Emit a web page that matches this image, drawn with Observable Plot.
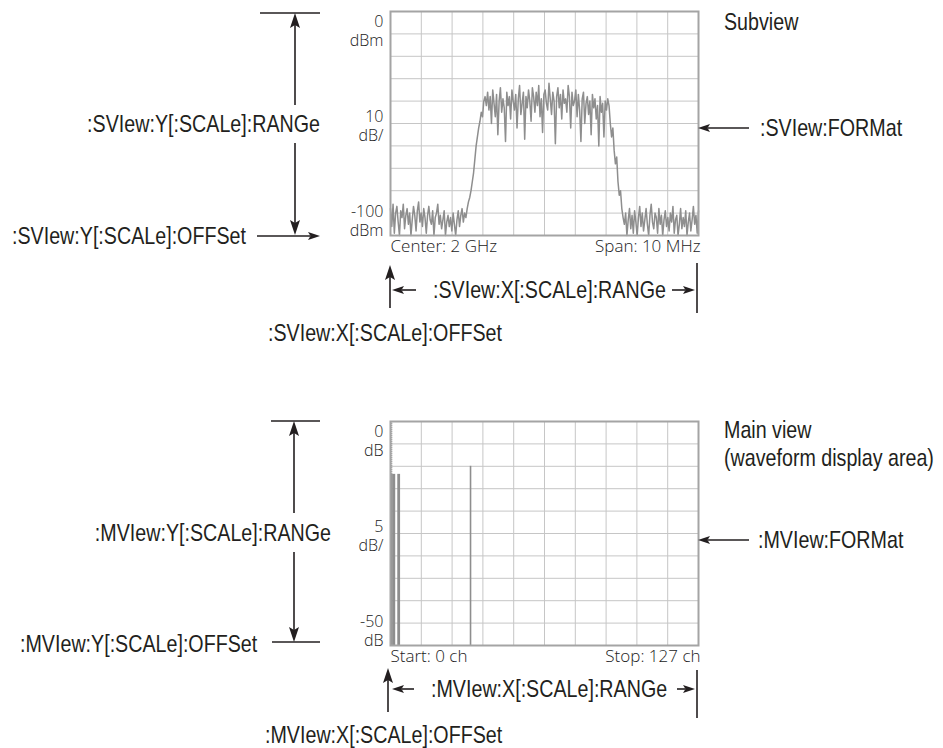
<!DOCTYPE html>
<html><head><meta charset="utf-8">
<script src="https://cdn.jsdelivr.net/npm/d3@7"></script>
<script src="https://cdn.jsdelivr.net/npm/@observablehq/plot@0.6"></script>
<style>
html,body{margin:0;padding:0;background:#fff;}
#wrap{position:relative;width:943px;height:748px;overflow:hidden;background:#fff;}
#wrap > svg{position:absolute;left:0;margin:0;}
</style></head><body><div id="wrap"></div>
<script>
// ---------- Subview (spectrum) data, dBm ----------
const noiseLeft = [-88,-96,-86,-99,-90,-87,-94,-100,-89,-92,-86,-97,-91,-88,-95,-90,-100,-93,-87,-91,-98,-89,-85,-94,-90,-96,-88,-92,-99,-91,-87,-93,-95,-89,-100,-92,-90,-86,-95,-91,-97,-93,-89,-100,-94,-91,-96,-92,-98,-90,-95,-100,-93,-89,-96,-91,-88,-94,-90,-92];
const riseEdge = [-88,-85,-83,-80,-76,-72,-66,-60,-56,-52,-49,-45,-47,-40,-38,-42];
const plateau = [-36,-44,-38,-50,-35,-41,-47,-37,-55,-40,-34,-45,-39,-43,-58,-36,-42,-38,-48,-35,-40,-44,-37,-52,-39,-33,-46,-41,-36,-57,-38,-43,-35,-40,-49,-34,-38,-45,-36,-42,-33,-47,-39,-54,-37,-35,-41,-44,-32,-39,-46,-36,-40,-59,-38,-34,-43,-37,-48,-35,-41,-39,-45,-33,-38,-52,-36,-42,-40,-35,-47,-37,-44,-58,-39,-36,-50,-41,-38,-46,-40,-55,-37,-43,-39,-48,-42,-60,-38,-45,-41,-56,-40,-44,-39];
const fallEdge = [-42,-50,-56,-52,-62,-68,-65,-76,-82,-80,-88,-92];
const noiseRight = [-95,-90,-100,-93,-88,-97,-91,-99,-89,-94,-100,-92,-87,-96,-90,-98,-93,-88,-95,-100,-91,-86,-94,-97,-90,-92,-99,-88,-95,-91,-100,-93,-89,-96,-92,-98,-90,-94,-87,-99,-93,-91,-100,-95,-88,-97,-92,-96,-89,-100,-94,-90,-98,-93,-87,-95,-91,-99,-89];
const subXDomain = [-5, 5];          // MHz offset from 2 GHz center
const subYDomain = [-100, 0];        // dBm
const subXGrid = [-4,-3,-2,-1,0,1,2,3,4];
const subYGrid = [-90,-80,-70,-60,-50,-40,-30,-20,-10];
const subYLabels = ["0\ndBm", "10\ndB/", "-100\ndBm"];
const subBottomLabels = ["Center: 2 GHz", "Span: 10 MHz"];

// ---------- Main view data, dB per channel ----------
const mainChannels = [0, 1, 3];
const mainBarValues = [-11.8, -11.8, -11.8];
const mainSpikeChannel = [33];
const mainSpikeValue = [-10];
const mainXDomain = [0, 127];
const mainYDomain = [-50, 0];
const mainXGrid = [12.7,25.4,38.1,50.8,63.5,76.2,88.9,101.6,114.3];
const mainYGrid = [-45,-40,-35,-30,-25,-20,-15,-10,-5];
const mainYLabels = ["0\ndB", "5\ndB/", "-50\ndB"];
const mainBottomLabels = ["Start: 0 ch", "Stop: 127 ch"];

const trace = [...noiseLeft, ...riseEdge, ...plateau, ...fallEdge, ...noiseRight];
const spectrum = trace.map((v, i) => ({f: subXDomain[0] + (subXDomain[1]-subXDomain[0]) * i / (trace.length - 1), dBm: v}));
const bars = mainChannels.map((c, i) => ({ch: c, dB: mainBarValues[i]}));
const spike = mainSpikeChannel.map((c, i) => ({ch: c, dB: mainSpikeValue[i]}));

const screenFont = "'Open Sans', 'Liberation Sans', sans-serif";
const gridStyle = {stroke: "#c6c6c6", strokeOpacity: 1, strokeWidth: 1};
const lblStyle = {fill: "#222", fontSize: 17, fontWeight: 300};
const sideStyle = {fill: "#222", fontSize: 16, fontWeight: 300, lineHeight: 1.15};

function sideLabels(labels) {
  return [
    Plot.text([labels[0]], {...sideStyle, frameAnchor: "top-left", textAnchor: "end", lineAnchor: "middle", dx: -7, dy: 19}),
    Plot.text([labels[1]], {...sideStyle, frameAnchor: "left", textAnchor: "end", lineAnchor: "middle", dx: -7, dy: 2}),
    Plot.text([labels[2]], {...sideStyle, frameAnchor: "bottom-left", textAnchor: "end", lineAnchor: "middle", dx: -7, dy: -15})
  ];
}
function bottomLabels(labels) {
  return [
    Plot.text([labels[0]], {...lblStyle, frameAnchor: "bottom-left", textAnchor: "start", lineAnchor: "middle", dx: 0, dy: 11}),
    Plot.text([labels[1]], {...lblStyle, frameAnchor: "bottom-right", textAnchor: "end", lineAnchor: "middle", dx: 2, dy: 11})
  ];
}

const wrap = document.getElementById("wrap");

const subPlot = Plot.plot({
  width: 943, height: 374,
  marginLeft: 390, marginRight: 245, marginTop: 11, marginBottom: 139,
  x: {domain: subXDomain, axis: null},
  y: {domain: subYDomain, axis: null},
  style: {fontFamily: screenFont, background: "transparent"},
  marks: [
    Plot.gridX(subXGrid, gridStyle),
    Plot.gridY(subYGrid, gridStyle),
    Plot.line(spectrum, {x: "f", y: "dBm", stroke: "#8e8e8e", strokeWidth: 1.5}),
    Plot.frame({stroke: "#a4a4a4", strokeWidth: 2}),
    ...sideLabels(subYLabels),
    ...bottomLabels(subBottomLabels)
  ]
});
subPlot.style.top = "0px";
wrap.appendChild(subPlot);

const mainPlot = Plot.plot({
  width: 943, height: 374,
  marginLeft: 390, marginRight: 245, marginTop: 47, marginBottom: 103,
  x: {domain: mainXDomain, axis: null},
  y: {domain: mainYDomain, axis: null},
  style: {fontFamily: screenFont, background: "transparent"},
  marks: [
    Plot.gridX(mainXGrid, gridStyle),
    Plot.gridY(mainYGrid, gridStyle),
    Plot.rectY(bars, {x1: "ch", x2: d => d.ch + 1.15, y1: () => mainYDomain[0], y2: "dB", fill: "#8e8e8e"}),
    Plot.ruleX(bars.slice(0, 1), {x: d => d.ch + 0.5, y1: "dB", y2: () => mainYDomain[1], stroke: "#7a7a7a", strokeWidth: 1.2, strokeDasharray: "1,1"}),
    Plot.ruleX(spike, {x: "ch", y1: () => mainYDomain[0], y2: "dB", stroke: "#8e8e8e", strokeWidth: 1.6}),
    Plot.frame({stroke: "#a4a4a4", strokeWidth: 2}),
    ...sideLabels(mainYLabels),
    ...bottomLabels(mainBottomLabels)
  ]
});
mainPlot.style.top = "374px";
wrap.appendChild(mainPlot);

// ---------- Annotation overlay (command callouts) ----------
const annoFont = "'Liberation Sans', Arial, sans-serif";
const annoTexts = [
  {t: ":SVIew:Y[:SCALe]:RANGe", x: 320, y: 124, a: "end"},
  {t: ":SVIew:Y[:SCALe]:OFFSet", x: 12, y: 236, a: "start"},
  {t: ":SVIew:X[:SCALe]:RANGe", x: 433, y: 290, a: "start"},
  {t: ":SVIew:X[:SCALe]:OFFSet", x: 268, y: 333, a: "start"},
  {t: "Subview", x: 724, y: 22, a: "start"},
  {t: ":SVIew:FORMat", x: 760, y: 128, a: "start"},
  {t: ":MVIew:Y[:SCALe]:RANGe", x: 331, y: 533, a: "end"},
  {t: ":MVIew:Y[:SCALe]:OFFSet", x: 20, y: 644, a: "start"},
  {t: ":MVIew:X[:SCALe]:RANGe", x: 431, y: 689, a: "start"},
  {t: ":MVIew:X[:SCALe]:OFFSet", x: 265, y: 735, a: "start"},
  {t: "Main view", x: 724, y: 430, a: "start"},
  {t: "(waveform display area)", x: 724, y: 458, a: "start"},
  {t: ":MVIew:FORMat", x: 758, y: 540, a: "start"}
];
const annoLines = [
  [260,13,320,13], [697,263,697,313],
  [271,421,320,421], [272,642,320,642], [697,670,697,718]
];
// arrows: from (x1,y1) to tip (x2,y2); big = long vertical arrows
const annoArrows = [
  [295,105,295,13,1], [295,143,295,235,1], [257,236,320,236,0],
  [390,308,390,265,1], [416,290,392,290,0], [672,290,695,290,0], [749,128,698,128,0],
  [294,513,294,421,1], [294,552,294,642,1],
  [388,712,388,668,1], [414,689,392,689,0], [677,689,695,689,0], [749,540,698,540,0]
];

const svg = d3.create("svg").attr("width", 943).attr("height", 748).style("top", "0px")
  .attr("viewBox", "0 0 943 748");
svg.selectAll("line.l").data(annoLines).join("line")
  .attr("x1", d => d[0]).attr("y1", d => d[1]).attr("x2", d => d[2]).attr("y2", d => d[3])
  .attr("stroke", "#231f20").attr("stroke-width", 1.6);
const ag = svg.append("g");
for (const [x1, y1, x2, y2, big] of annoArrows) {
  const L = big ? 15 : 12, W = big ? 5 : 4, N = big ? 3 : 2.5;
  const dx = x2 - x1, dy = y2 - y1, len = Math.hypot(dx, dy);
  const ux = dx / len, uy = dy / len, px = -uy, py = ux;
  const bx = x2 - ux * L, by = y2 - uy * L;
  ag.append("line").attr("x1", x1).attr("y1", y1).attr("x2", bx + ux * N).attr("y2", by + uy * N)
    .attr("stroke", "#231f20").attr("stroke-width", 1.6);
  ag.append("path")
    .attr("d", `M${x2},${y2} L${bx + px * W},${by + py * W} L${bx + ux * N},${by + uy * N} L${bx - px * W},${by - py * W} Z`)
    .attr("fill", "#231f20");
}
svg.selectAll("text").data(annoTexts).join("text")
  .attr("transform", d => `translate(${d.x},${d.y}) scale(0.82,1)`)
  .attr("text-anchor", d => d.a)
  .attr("dominant-baseline", "central")
  .attr("font-family", annoFont).attr("font-size", 24).attr("fill", "#231f20")
  .text(d => d.t);
wrap.appendChild(svg.node());
</script>
</body></html>
